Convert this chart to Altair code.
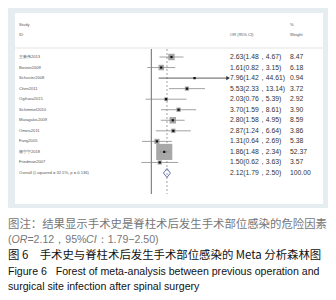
import altair as alt
import pandas as pd

# ---------------- data ----------------
studies = ["王新伟2013", "Boston2009", "Schuster2008", "Chen2011", "Ogihara2015",
           "Schimmel2010", "Maragakis2009", "Omeis2011", "Fang2005", "杨宁宁2018",
           "Friedman2007"]
or_vals = [2.63, 1.61, 7.96, 5.53, 2.03, 3.70, 2.80, 2.87, 1.31, 1.86, 1.50]
lo_vals = [1.48, 0.82, 1.42, 2.33, 0.76, 1.59, 1.58, 1.24, 0.64, 1.48, 0.62]
hi_vals = [4.67, 3.15, 44.61, 13.14, 5.39, 8.61, 4.95, 6.64, 2.69, 2.34, 3.63]
weights = [8.47, 6.18, 0.94, 3.72, 2.92, 3.90, 8.59, 3.86, 5.38, 52.37, 3.57]
overall_or, overall_lo, overall_hi, overall_w = 2.12, 1.79, 2.50, 100.00
overall_label = "Overall  (I-squared = 32.5%, p = 0.136)"
tick_values = [0.0251, 1, 39.8]

caption_1 = "图注：结果显示手术史是脊柱术后发生手术部位感染的危险因素"
caption_2 = ["(", "OR", "=2.12，95%", "CI", "：1.79−2.50)"]
caption_3 = "图 6\u3000手术史与脊柱术后发生手术部位感染的 Meta 分析森林图"
caption_4 = "Figure 6\u00a0\u00a0\u00a0Forest of meta-analysis between previous operation and"
caption_5 = "surgical site infection after spinal surgery"

# ---------------- tables ----------------
axis_max = max(tick_values)
n = len(studies)
df = pd.DataFrame({"row": list(range(n)), "study": studies, "or_": or_vals,
                   "lo": lo_vals, "hi": hi_vals, "weight": weights})
df["hi_plot"] = df["hi"].clip(upper=axis_max)
df["clipped"] = df["hi"] > axis_max

lab = pd.DataFrame({
    "row": list(range(n + 1)),
    "study": studies + [overall_label],
    "ci": [f"{o:.2f}({l:.2f}，{h:.2f})" for o, l, h in
           zip(or_vals + [overall_or], lo_vals + [overall_lo], hi_vals + [overall_hi])],
    "w": [f"{w:.2f}" for w in weights + [overall_w]],
})

dh = 0.42
dia = pd.DataFrame({
    "x": [overall_lo, overall_or, overall_hi, overall_or, overall_lo],
    "y": [n, n - dh, n, n + dh, n],
    "o": [0, 1, 2, 3, 4],
})

W, H = 320, 284
FONT = "Liberation Sans"
CJK = "Noto Sans CJK SC"

xscale = alt.Scale(type="log", domain=[0.001445, 3776], range=[7, 315])
yscale = alt.Scale(domain=[0, n], range=[49, 165])
xaxis = alt.Axis(values=tick_values, orient="bottom", offset=186 - H, grid=False,
                 title=None, domainColor="#333", domainWidth=0.8, tickColor="#333",
                 tickWidth=0.8, tickSize=3, labelFontSize=4.4, labelColor="#555",
                 labelFont=FONT, labelPadding=1,
                 labelExpr="replace(format(datum.value, '.3~g'), /^0\\./, '.')")


def X(f):
    return alt.X(f, type="quantitative", scale=xscale, axis=xaxis)


def Y(f):
    return alt.Y(f, type="quantitative", scale=yscale, axis=None)


one = alt.Data(values=[{"k": 1}])


def box(x1, x2, y1, y2, color):
    return alt.Chart(one).mark_rect(color=color).encode(
        x=alt.value(x1), x2=alt.value(x2), y=alt.value(y1), y2=alt.value(y2))


def txt(s, x, y, size, color, font=FONT, style="normal", align="left"):
    return alt.Chart(alt.Data(values=[{"t": s}])).mark_text(
        align=align, baseline="middle", fontSize=size, color=color, font=font,
        fontStyle=style).encode(x=alt.value(x), y=alt.value(y), text="t:N")


base = alt.Chart(df)

outer = box(0, W, 0, 200, "#e6edf0")
inner = box(7, 315, 5, 196, "#ffffff")
hline = alt.Chart(one).mark_rule(color="#d0d0d0", strokeWidth=0.6).encode(
    x=alt.value(7), x2=alt.value(315), y=alt.value(40))

null_line = alt.Chart(one).mark_rule(color="#444", strokeWidth=0.8).encode(
    x=alt.X(datum=1, type="quantitative", scale=xscale, axis=xaxis),
    y=alt.value(41), y2=alt.value(186))
ov_line = alt.Chart(one).mark_rule(color="#888", strokeWidth=0.8, strokeDash=[2, 2]).encode(
    x=alt.X(datum=overall_or, type="quantitative", scale=xscale, axis=xaxis),
    y=alt.value(41), y2=alt.value(186))

squares = base.mark_square(color="#a8a8a8", opacity=1).encode(
    x=X("or_"), y=Y("row"),
    size=alt.Size("weight:Q", scale=alt.Scale(domain=[0, 52.37], range=[0, 260]), legend=None))

ci = base.mark_rule(strokeWidth=0.8).encode(
    x=X("lo"), x2="hi_plot", y=Y("row"),
    color=alt.condition("datum.clipped", alt.value("#333"), alt.value("#8a8a8a")))

pts = base.mark_square(color="#111", size=5, opacity=1).encode(x=X("or_"), y=Y("row"))

arrow = base.transform_filter("datum.clipped").mark_point(
    shape="triangle-right", filled=True, color="#333", size=18, opacity=1).encode(
    x=X("hi_plot"), y=Y("row"))

diamond = alt.Chart(dia).mark_line(color="#5565a8", strokeWidth=0.9).encode(
    x=X("x"), y=Y("y"), order="o:Q")

names = alt.Chart(lab).mark_text(align="left", baseline="middle", fontSize=4.1,
                                 color="#555", font=FONT).encode(
    x=alt.value(11), y=Y("row"), text="study:N")
cis = alt.Chart(lab).mark_text(align="left", baseline="middle", fontSize=6.8,
                               color="#333", font=FONT).encode(
    x=alt.value(222), y=Y("row"), text="ci:N")
ws = alt.Chart(lab).mark_text(align="left", baseline="middle", fontSize=6.8,
                              color="#333", font=FONT).encode(
    x=alt.value(282), y=Y("row"), text="w:N")

heads = [txt("Study", 11, 17, 4.1, "#555"), txt("ID", 11, 27, 4.1, "#555"),
         txt("OR (95% CI)", 222, 27, 4.1, "#555"),
         txt("%", 282, 17, 4.1, "#555"), txt("Weight", 282, 27, 4.1, "#555")]

# caption
cs = 11.4
ls = 10.6
caps = [txt(caption_1, 0, 217, cs, "#777", font=CJK)]
seg_em = [0.333, 1.5, 0.584 + 3 * 0.556 + 0.278 + 1.0 + 2 * 0.556 + 0.889, 1.0, 0]
xpos = 0.0
for s, em in zip(caption_2, seg_em):
    italic = s in ("OR", "CI")
    caps.append(txt(s, xpos, 232, ls, "#777", font=FONT, style="italic" if italic else "normal"))
    xpos += em * ls
caps += [txt(caption_3, 0, 248, cs, "#111", font=CJK),
         txt(caption_4, 0, 264, ls, "#111"),
         txt(caption_5, 0, 279, ls, "#111")]

chart = alt.layer(outer, inner, hline, null_line, ov_line, squares, ci, pts, arrow,
                  diamond, names, cis, ws, *heads, *caps).properties(
    width=W, height=H, padding=0,
    autosize=alt.AutoSizeParams(type="none"),
    background="#ffffff",
).configure_view(stroke=None)

chart.save("out.html", embed_options={"renderer": "svg", "actions": False})
